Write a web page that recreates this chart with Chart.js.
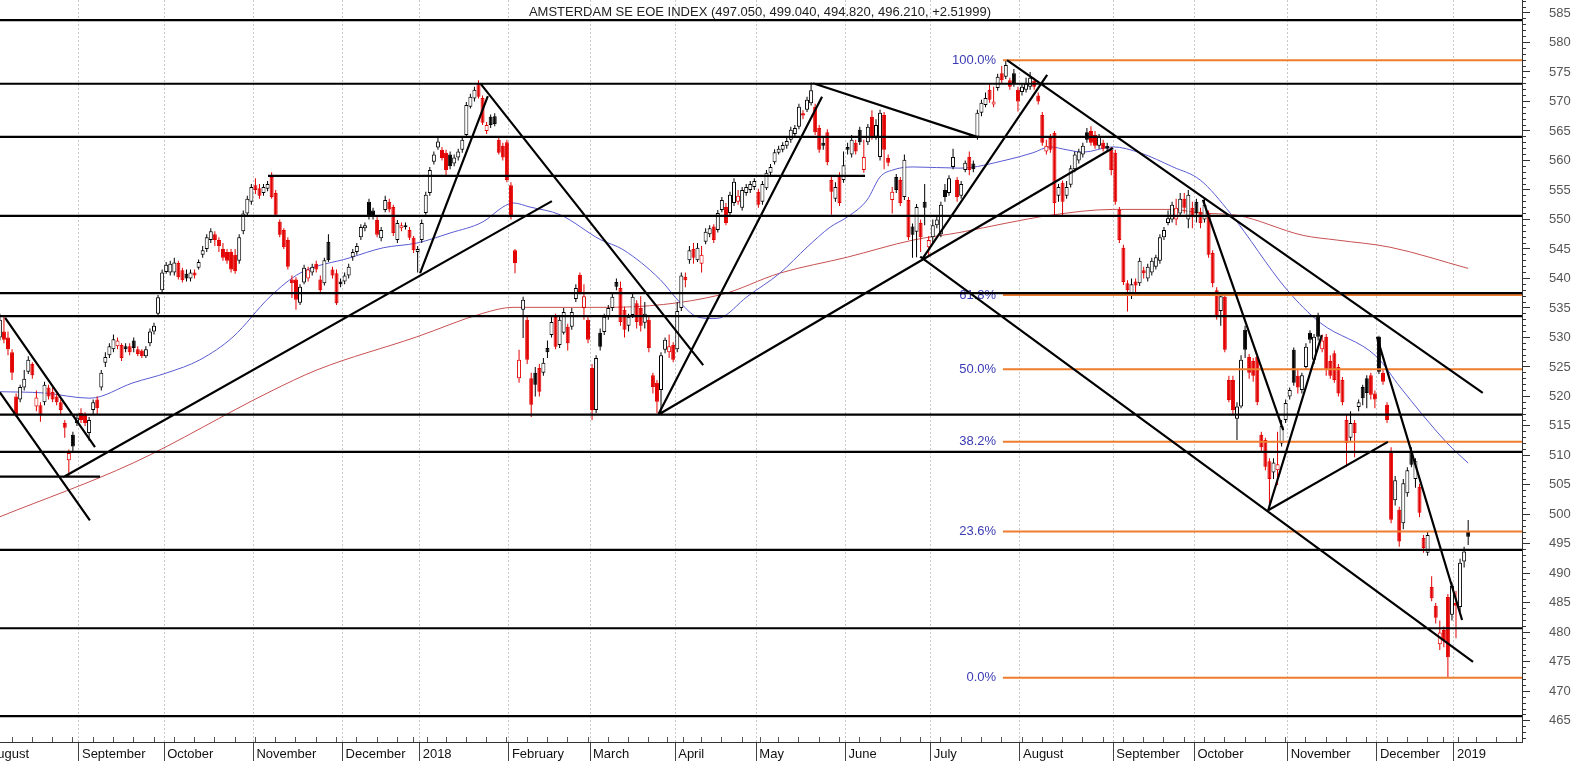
<!DOCTYPE html>
<html><head><meta charset="utf-8">
<script src="https://cdn.jsdelivr.net/npm/chart.js@4.4.1/dist/chart.umd.min.js"></script>
<style>html,body{margin:0;padding:0;background:#fff;overflow:hidden}#wrap{width:1575px;height:761px;position:relative}</style>
</head><body><div id="wrap"><canvas id="c" width="1575" height="761"></canvas></div>
<script>
const titleText = 'AMSTERDAM SE EOE INDEX (497.050, 499.040, 494.820, 496.210, +2.51999)';
const firstDay = -20; // trading-day index of first candle (day 0 = 1 Sep 2017)
const monthStarts = [-23.5,-0.5,20.5,42.5,64.5,83.5,105.5,125.5,146.5,166.5,188.5,209.5,231.5,254.5,274.5,297.5,319.5,338.5];
const monthLabels = ['August','September','October','November','December','2018','February','March','April','May','June','July','August','September','October','November','December','2019'];
// first trading day of each week (day index)
const weekStarts = [-19,-14,-9,-4,1,6,11,16,21,26,31,36,41,46,51,56,61,66,71,76,81,84,88,93,98,103,108,113,118,123,128,133,138,143,147,151,156,161,166,170,175,180,185,190,195,200,205,210,215,220,225,230,235,240,245,250,255,260,265,270,275,280,285,290,295,300,305,310,315,320,325,330,335,338,342,347,352];

const open = [
530,531,530,527.5,520,519.5,521.5,524.2,525.5,518.3,518.5,519,521.5,520.8,520,519,515.5,509.2,513.5,515.5,
517.2,516.9,513.8,517.7,519.5,521.5,525.7,527,528,528.5,528.7,528.5,528.5,529.5,528,527.8,526.8,529,531,534,538,
541.1,541,541,542.6,541.4,540.8,540,541,541.8,544,545,546.5,547.5,546.5,545,544.5,544.5,544,543,548,551,553,
555.8,555.3,554.5,555.2,557.2,554.5,549.6,548.2,546.5,539.8,539.8,535.9,539.3,540,541,542.5,539.8,539.2,546.2,541.5,540.9,539.5,
539.5,540.5,543.6,544.5,547,548.5,553,551.5,549.9,546.8,551.6,553,552.1,546.5,548.5,548.7,548.2,546.9,544.5,
546.5,551.1,554.5,559.8,562.2,561.8,561.3,561,559.5,560.5,561.8,564.3,569.1,570.5,573.1,570.6,565,567.4,567.5,563.5,562.5,563.1,
555.8,544.8,523.1,534.7,533,523.1,524,524.8,524,528.2,530.4,533.5,528.7,530.8,531.8,531.8,536.5,540.6,535,533,
524.8,517.7,530.8,530.9,533.5,535,539.4,538.4,534.7,532,533.8,535.8,535,532.5,533,523.6,522.3,521.1,527.9,527.5,528.7,
528,535,540.3,543.1,545,543.1,542.5,546.2,547.5,548.8,548.2,551.6,552.1,551.1,552.8,553,552,554.5,555,555.5,
554.7,553,555.3,557.9,559.7,561.3,561.8,562.5,563.5,564.5,565.7,568,568.6,569.7,569.1,565.5,563,564.8,556.7,553.5,557.5,556.7,
562.3,561,563,565.2,558.4,563.1,567.4,564,560.6,567.7,560.4,553.3,557.2,556.7,553.8,553.3,548.8,547.9,549.4,553,545.3,
547,549,547.5,555,554.5,558.9,556.7,554,558.4,560.6,559.5,564,568.1,569.4,572,569.5,572.3,574.8,574.2,573.6,574.8,572,
571.6,572,572.5,573.5,571,567.7,561.5,563.8,564.7,554,556.2,554,555.9,558.5,560,561,564.8,565,564.3,562.5,563,562.5,561.8,
561.3,551.6,545.2,539.2,537.5,539.5,539.2,541.4,540,541,542,543,547,549.4,550,550,551,553.5,550,552,
553,551.3,550,551.1,544.3,538,534.5,536.9,522.8,522.8,516.2,518.3,531.3,526.7,526,526.7,513.5,512.6,509,507.1,507.5,512,516,
520,527.9,523.5,521.1,525,530.8,526.2,533.5,528,530.1,526,527.3,525,522.8,516,513,515.5,518.2,521.6,523.1,523.6,520.5,
530.1,524,518.6,510.6,502.4,500.8,498.5,503.6,510.6,506,504.7,496,493.5,487.7,484.5,478,480.4,486,483,
485,484.3,492,497.05];
const high = [
534,533.5,531,528,520.5,522,524.5,526.8,525.8,521,519,522.5,522,521.5,520.5,519.5,516,511,514,517,
518,517.3,516.5,519.5,520,524.5,527.5,529,530.5,530,529,529,529,530,528.5,528,528.5,531.5,532.5,537.2,541.5,
542.8,543,543.5,543,541.8,541.5,541.5,541.5,543.2,545.5,547.5,548.5,548,547,546,545,545,545,547.5,551.5,554,556,
557,556,556,556.5,558,555,550,548.5,547,540.5,540.2,539,542.3,542,542.5,543,540.5,543.5,547.5,542,541.5,540,
541,542.5,545,546,549.2,549.5,553.5,552,550.5,548.7,554,553.5,552.5,549.9,549.5,549.5,548.7,547.2,545.5,
550,554.7,558.9,561.5,563.8,562.3,561.8,561.5,561,562,564,569.9,571.3,572.5,573.6,571,566.5,567.8,568,564,563,563.5,
556.3,545,527.9,536.9,533.5,524,525,525.5,526.5,529.5,533.5,534,533.5,535,532.3,535,539,541,539,533.5,
525.5,527,531.5,534,535.5,537.5,540,539.5,535.2,534,537.5,536.3,537,536,533.5,524,522.8,527.5,530,530.5,529.2,
536,541,541,545.5,546,546,545.5,548.5,549,549.2,551.6,553.8,552.8,554.7,557,555,555.5,556,556.5,557,
555.2,556.5,558.4,559.4,561.9,562.5,563.1,563.8,565.7,566,569.6,568.5,570.8,573.2,569.6,566,563.8,565.3,557.2,556.3,558,561.5,
563,564.3,563.5,565.7,563.5,566.2,568.5,567,568.6,568.2,561,555.5,557.7,557.2,561,553.8,549.3,552.6,550,556,547.2,
550,550.5,553,556,557.5,562,557.2,556.5,560,561.5,560,568.6,570.3,571.5,573,572.5,574.7,576,577,574,575.5,572.5,
573,574,575,574,571.5,568.2,563.5,564.5,565,556,556.6,556.5,559.2,561.5,562,563,565.5,565.8,565,564.5,563.5,563,562.3,
561.8,552.1,545.7,539.7,540,540,543.5,542,542.5,543.5,544,547.5,548.7,551.5,553,553.5,554.5,554.5,555,553,
553.5,552,553.5,551.5,544.8,538.5,537.5,537.5,523.5,523.5,519,527,532,527.2,526.5,527.2,514,513,509.5,509.5,514,516,519.5,
521.5,528.3,524.5,524,529,531.2,530.6,534.2,530.5,530.6,527,527.8,525.5,523.3,517,517.5,516,519.5,522,523.6,524,521,
530.3,524.5,519,511.4,506.5,501.3,506,508,511.4,509.5,505.2,496.5,497,489.5,485,482,481,486.5,488.5,
487,492.5,494.5,499.04];
const low = [
529.5,529,527,522.8,516.5,519,521,523.8,523,517.5,515.7,518.5,519.5,519,518.5,517,513,506.4,510.5,515,
515.5,515,512.5,517,517,521,525,526.5,527.5,528,526,527.5,527,527.5,526.8,526.5,526.5,528.5,530.5,533.8,537.5,
540.8,540.5,540.5,539.8,539.3,539.5,539.5,540,541.5,543.5,544.5,546,545.5,544.5,543,542.5,541,540.8,542.5,547.5,550.5,552.5,
554.3,553.5,554,554.8,553.5,550.5,547,545,541.5,536.7,534.7,535.5,539,539.5,540.5,541,537.5,538.8,542.8,540,535.5,538.5,
539,540,543,544,546.5,548,550,550,547,546.3,551.2,551.2,547.2,546,548,548.3,546.5,544.3,541,
546,550.8,554,559.3,561.8,560,557.5,558.5,559,560,561.3,564,568.8,570,570.5,566,564.5,565.5,565.8,561,560,556.3,
550,540.9,522.3,529.9,525.5,516.5,520,520,523.5,526.5,530,528,528.2,530.5,527.8,531.3,536,537.3,533,529,
516,517.2,527.8,530.4,533,534.5,538,532,530,531,533.3,531.5,531,531.5,527.5,520.5,517.2,517,527.3,526.5,525.8,
527.5,534.5,538.5,542.5,542.5,542.8,541,545.8,547,546,547.8,551.2,549,550.6,552.3,552.5,551.5,554,554.5,555,
552,552.5,555,557.5,559.3,561,561.4,562,563,564,565.3,567,568.2,569.3,564.3,561.3,561.8,559.2,550.8,553,552.3,556.2,
561,560.5,561,562.6,557.9,562.6,563.5,563.5,560,558.5,559,551,554.5,552.3,553.3,546.5,543.5,543.6,544.5,549,543.8,
546,548.5,547,553,554,558.5,553,553.5,558,557.5,558,563.5,567.5,569,569.8,569,571.8,573,573.8,572,572.5,568.3,
571,571.5,572,572,569.5,562.5,561,561.3,550.5,553,550.5,553.5,555.4,558,559.5,560.5,563,562.5,562,562,561.5,561.5,557.5,
552.5,546,538.9,534.4,536.5,537.5,538.7,540,539.5,540.5,541.5,542.5,546.5,549,549.5,549,550.5,551,548.5,548.5,
549.5,548.5,549.5,543.5,538.5,533,532,527.5,519,517,512.6,518,526.5,523,522.5,518.5,510.5,507.5,501,506,505,511.5,515.5,
519.5,521.8,520.5,520.5,524.5,529,525.5,529.5,527.5,523.5,523,522.3,520,518.5,508.1,512.5,509.7,517.5,518.5,518,519.5,518,
523.8,522,515.5,498.5,501.5,494.5,497.5,503,508,504.5,499.5,493.5,493,485.3,481.5,477,477.5,472.4,482,
479,483.5,491,494.82];
const close = [
533,529.6,528,524,517,521.6,523,526.2,523.6,519.8,516.9,522,520,519.5,519,517.7,514.7,510.4,511.5,516.4,
516,515.5,516,519,518,524,526.7,528.5,529.7,529.5,526.5,528,527.5,528.2,527.2,526.8,528,531,532,536.8,541,
542.3,542.5,542.7,540.2,539.7,540,541,540.5,542.8,544.8,547,548,546.5,545.5,543.5,543,541.5,541.2,547,551,553.5,555.5,
555,554,555.5,556,553.8,550.8,547.4,545.3,542,539.2,536.4,538.6,541.8,541.5,542,541.5,538,543.1,543.1,540.5,535.8,539,
540.5,542,544.5,545.5,548.7,549,550.5,550.5,547.4,548.2,553.3,551.7,547.7,549.4,549,549,546.9,544.8,545,
549.4,554.2,558.4,561,563.2,560.4,558.4,559,560.5,561.5,563.5,569.4,570.8,572,570.8,566.4,566,566,566.2,561.3,560.5,556.7,
550.4,542.6,526.2,536.4,526.2,518.6,522,520.8,525.7,527.5,532.6,528.4,533,534.3,529,534.3,538.4,537.7,537,529.6,
517.7,526.5,528.4,533.5,535,536.9,538.6,532.6,531.3,533.5,536.9,532.6,532,534,528.2,521.6,519.1,527,529.6,528.5,526.2,
534.5,540.5,539.7,544.8,543.5,545.2,544,547.9,548.5,546.5,551.1,553.3,549.4,554.2,556.4,554,555,555.5,556,556.5,
552.5,556,557.9,558.9,561.4,562,562.6,563.3,565.2,565.5,569.1,567.6,570.3,571.9,564.8,561.8,562.5,559.7,554.7,555.5,552.8,559.2,
561.8,563.5,561.5,563.1,560.6,565.7,564,566,568.1,561.8,559.6,554.7,555,552.8,560.1,547,547.4,552.1,547,552,546.5,
549,550,552.5,553.8,557,560.6,553.8,556,559.6,558.4,558.5,568.1,569.8,570.6,570.3,570,574.2,573.6,576.2,572.5,573.1,570,
572.5,573,574,572.5,570,563,562.5,561.8,552.8,555.5,553,555.5,558.7,561,561.5,562.5,563.5,563,562.5,564,562,562,558.4,
553,546.5,539.4,538,539,538.8,543,540.9,542,543,543.6,547,548.2,550.2,552.5,552,553.5,552,554.2,550.5,
551,549.4,552.5,544,539.2,533.5,537,527.9,519.4,517.7,518.3,526.2,527.9,524,523.5,519,511.4,508.1,506,508.8,508.5,515,518.9,
521.1,522.3,521.5,523.6,528.4,529.6,530.1,530.1,529.5,524.5,523.5,522.8,520.5,519,512.1,515.5,513.8,519,519.7,520.6,520.3,519.5,
524.2,522.5,516,499.1,505.8,495.4,505.3,507.5,508.4,509,500.3,494.3,496.5,485.8,482.5,480,478.7,475.8,487.9,
484.5,491.8,493.7,496.21];

// moving averages: [day index, value]
const maBlue = [[-20,520.8],[-9.4,520.6],[2.2,519.7],[12.8,522.3],[21.2,524.0],[29.3,526.2],[37.5,530.1],[46.6,536.9],[54,540.9],[66.3,543.5],[74.5,545.2],[82.8,546.0],[91,547.7],[99.1,549.6],[104,552.1],[106.5,552.8],[110.7,552.1],[118.1,550.8],[128,546.6],[133.6,544.9],[142.8,539.8],[147.7,535.9],[151.9,533.5],[155.8,533.2],[157.5,533.3],[164.2,536.9],[172.3,540.9],[179,545.3],[184.7,548.7],[188.9,550.4],[193.8,553.3],[197,557.2],[200.2,558.4],[205.1,558.9],[216.7,558.7],[228.3,560.1],[234.7,561.3],[238.9,562.3],[243.1,561.8],[247,561.4],[254.4,562.3],[261.1,561.3],[269.2,558.9],[275.9,556.7],[283.3,551.1],[297.3,538.1],[305.5,532.5],[319.5,526.7],[325.2,521.6],[336.8,512.1],[342,508.7]];
const maRed = [[-20,499.6],[12.8,508.7],[46.6,520.8],[58.2,524.5],[82.8,530.1],[99.1,534.1],[106.5,535.1],[129.7,535.1],[157.5,537.2],[172.3,540.9],[188.9,543.6],[205.1,546.5],[216.7,547.8],[228.3,549.4],[238.9,550.7],[254.4,551.7],[269.2,551.7],[275.9,551.1],[285,550.7],[301.3,547.3],[309.7,546.5],[322.7,545.3],[342,541.7]];

// horizontal support / resistance levels
const hLevels = [583.8,573.0,564.0,550.6,537.5,533.6,516.9,510.6,494.0,480.7,465.8];
const hShort = [[557.4,46.1,193.3],[506.4,-25,4.7]];
// trend lines [[day, value],[day, value]]
const trendLines = [
 [[-18.7,533.3],[3.45,511.4]], [[-20,520.7],[2.2,499.0]], [[-4.4,506.3],[116.1,553.1]],
 [[83.6,540.9],[100.3,570.9]], [[98.4,573.1],[153.4,525.3]], [[142.3,516.9],[182.7,570.8]],
 [[142.3,516.9],[254.4,562.1]], [[180.5,573.1],[220.9,564.0]], [[207.6,543.5],[238.2,574.5]],
 [[206.9,543.7],[343.2,475.0]], [[228.3,577.0],[345.6,520.6]], [[276.6,553.3],[296.4,514.3]],
 [[292.7,500.7],[305.9,530.4]], [[292.7,500.7],[322.2,512.3]], [[319.5,530.1],[340.5,482.1]]];
// Fibonacci retracement levels
const fibValues = [577.0,537.2,524.6,512.3,497.1,472.3];
const fibLabels = ['100.0%','61.8%','50.0%','38.2%','23.6%','0.0%'];
const fibStart = 227.3, fibLabelAt = 225.6;

const xMin = -19.97, xMax = 355.27, yMin = 461.42, yMax = 587.2;
const RED = '#e30000', BLK = '#000000', ORANGE = '#ee7d2f';

const dayX = close.map((c,i) => firstDay + i);
const lineCol = close.map((c,i) => (i > 0 && c < close[i-1]) ? RED : BLK);
const bodyFill = close.map((c,i) => c >= open[i] ? '#ffffff' : lineCol[i]);

function segData(segs){ const out=[]; segs.forEach(s=>{ out.push({x:s[0][0],y:s[0][1]},{x:s[1][0],y:s[1][1]},{x:s[1][0],y:null}); }); return out; }
const blackSegs = hLevels.map(v=>[[-25,v],[360,v]]).concat(hShort.map(h=>[[h[1],h[0]],[h[2],h[0]]])).concat(trendLines);
const orangeSegs = fibValues.map(v=>[[fibStart,v],[360,v]]);

const fibPlugin = {
  id:'fibText',
  beforeDatasetsDraw(chart){
    const {ctx, scales:{x,y}} = chart;
    ctx.save();
    ctx.font = '13px "Liberation Sans", Arial, sans-serif';
    ctx.fillStyle = '#3a3ab4'; ctx.textAlign='right'; ctx.textBaseline='middle';
    const px = x.getPixelForValue(fibLabelAt);
    fibValues.forEach((v,k)=>ctx.fillText(fibLabels[k], px, y.getPixelForValue(v)));
    ctx.restore();
  },
  afterDraw(chart){
    const ctx = chart.ctx;
    ctx.save();
    ctx.font = '13px "Liberation Sans", Arial, sans-serif';
    ctx.fillStyle = '#222'; ctx.textAlign='center'; ctx.textBaseline='middle';
    ctx.fillText(titleText, 760, 12);
    ctx.restore();
  }
};

const zeroPad = s => { s.paddingLeft = 0; s.paddingRight = 0; s.paddingTop = 0; s.paddingBottom = 0; };

new Chart(document.getElementById('c'), {
  type:'bar',
  data:{ datasets:[
    {type:'line', data:segData(blackSegs), borderColor:'#000', borderWidth:2.2, pointRadius:0, spanGaps:false, order:0},
    {type:'line', data:segData(orangeSegs), borderColor:ORANGE, borderWidth:2, pointRadius:0, spanGaps:false, order:0},
    {type:'bar', data:close.map((c,i)=>({x:dayX[i], y:[open[i], c]})), backgroundColor:bodyFill, borderColor:lineCol, borderWidth:1,
      borderSkipped:false, grouped:false, barPercentage:1, categoryPercentage:1, maxBarThickness:4, minBarLength:1, inflateAmount:0, order:1},
    {type:'bar', data:close.map((c,i)=>({x:dayX[i], y:[low[i], high[i]]})), backgroundColor:lineCol, borderWidth:0,
      grouped:false, barPercentage:1, categoryPercentage:1, maxBarThickness:1, inflateAmount:0, order:2},
    {type:'line', data:maBlue.map(p=>({x:p[0],y:p[1]})), borderColor:'#5a5ad2', borderWidth:1, pointRadius:0, cubicInterpolationMode:'monotone', order:3},
    {type:'line', data:maRed.map(p=>({x:p[0],y:p[1]})), borderColor:'#c85050', borderWidth:1, pointRadius:0, cubicInterpolationMode:'monotone', order:3}
  ]},
  options:{
    responsive:false, animation:false, events:[],
    layout:{padding:0},
    plugins:{legend:{display:false}, tooltip:{enabled:false}, title:{display:false}},
    scales:{
      x:{type:'linear', min:xMin, max:xMax, bounds:'data', offset:false, position:'bottom',
        afterBuildTicks:s=>{ s.ticks = monthStarts.map(v=>({value:v})); },
        afterFit:s=>{ s.height = 19; zeroPad(s); },
        ticks:{autoSkip:false, maxRotation:0, minRotation:0, align:'start', labelOffset:3, padding:-14.5, color:'#111',
          font:{family:'"Liberation Sans", Arial, sans-serif', size:13}, callback:(v,i)=>monthLabels[i]},
        grid:{display:true, drawOnChartArea:true, color:'#c8c8c8', lineWidth:1, offset:false, drawTicks:true, tickLength:19, tickColor:'#444', tickWidth:1},
        border:{display:true, color:'#333', width:1, dash:[2,2]}
      },
      xw:{type:'linear', axis:'x', min:xMin, max:xMax, bounds:'data', offset:false, position:{y: yMin + 5/5.899},
        afterBuildTicks:s=>{ s.ticks = weekStarts.map(v=>({value:v-0.5})); },
        afterFit:zeroPad,
        ticks:{display:false, autoSkip:false},
        grid:{display:true, drawOnChartArea:false, drawTicks:true, tickLength:5, tickColor:'#555', tickWidth:1},
        border:{display:false}
      },
      y:{type:'linear', position:'right', min:yMin, max:yMax, bounds:'data',
        afterBuildTicks:s=>{ const t=[]; for(let v=462; v<=587; v++) t.push({value:v}); s.ticks=t; },
        afterFit:s=>{ s.width = 53; zeroPad(s); },
        ticks:{autoSkip:false, padding:19, color:'#555', font:{family:'"Liberation Sans", Arial, sans-serif', size:13},
          callback:v=>(Math.round(v)%5===0 ? String(Math.round(v)) : '')},
        grid:{display:true, drawOnChartArea:false, drawTicks:true, tickLength:8, tickColor:'#333', tickWidth:1,
          tickBorderDash:c=>(c.tick && Math.round(c.tick.value)%5===0) ? [] : [3,30]},
        border:{display:true, color:'#333', width:1}
      }
    }
  },
  plugins:[fibPlugin]
});
</script></body></html>
